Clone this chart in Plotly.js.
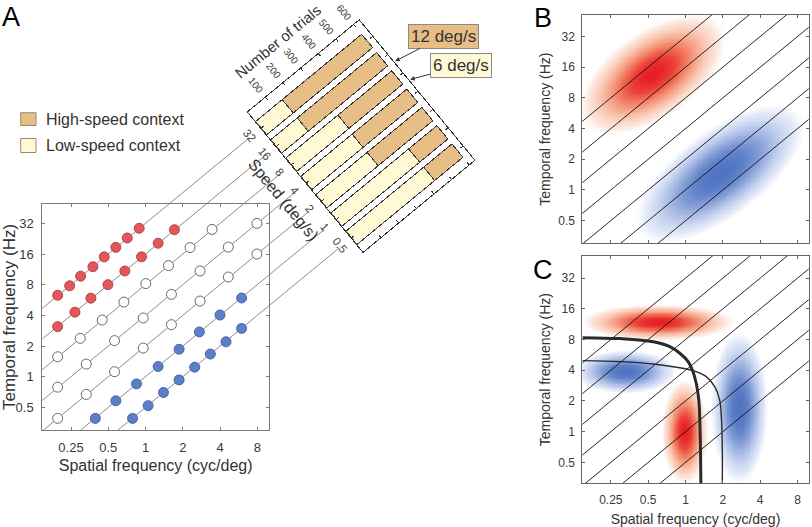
<!DOCTYPE html>
<html><head><meta charset="utf-8">
<script src="https://cdn.plot.ly/plotly-3.0.1.min.js"></script>
<style>
body{margin:0;background:#fff}
#wrap{position:relative;width:812px;height:527px;overflow:hidden;background:#fff}
#main{position:absolute;left:0;top:0;width:812px;height:527px}
#bars{position:absolute}
</style></head><body>
<div id="wrap"><div id="main"></div><div id="bars"></div></div>
<script>
// ================= DATA =================
const speeds = [32, 16, 8, 4, 2, 1, 0.5];
const speedLabels = ['32', '16', '8', '4', '2', '1', '0.5'];
const sfTicks = [0.25, 0.5, 1, 2, 4, 8];
const sfTickText = ['0.25', '0.5', '1', '2', '4', '8'];
const tfTicks = [0.5, 1, 2, 4, 8, 16, 32];
const tfTickText = ['0.5', '1', '2', '4', '8', '16', '32'];
const trialTicks = [100, 200, 300, 400, 500, 600];

// Panel A: stimuli on each speed line (spatial freq cyc/deg, temporal freq Hz)
const sf_32 = [0.195, 0.244, 0.299, 0.376, 0.464, 0.576, 0.712, 0.889];
const tf_32 = [6.3, 7.8, 9.7, 12.0, 15.0, 18.6, 23.0, 28.6];
const sf_16 = [0.195, 0.269, 0.362, 0.497, 0.681, 0.929, 1.265, 1.713];
const tf_16 = [3.1, 4.3, 5.9, 8.0, 10.9, 15.0, 20.4, 27.7];
const sf_8 = [0.195, 0.297, 0.447, 0.669, 1.006, 1.533, 2.291, 3.448];
const tf_8 = [1.57, 2.38, 3.6, 5.4, 8.2, 12.3, 18.5, 27.9];
const sf_4 = [0.195, 0.332, 0.562, 0.958, 1.62, 2.76, 4.67, 7.95];
const tf_4 = [0.79, 1.33, 2.26, 3.77, 6.43, 10.9, 18.7, 32.0];
const sf_2 = [0.195, 0.332, 0.562, 0.958, 1.62, 2.76, 4.67, 7.95];
const tf_2 = [0.39, 0.67, 1.12, 1.91, 3.24, 5.53, 9.51, 16.0];
const sf_1 = [0.393, 0.576, 0.846, 1.265, 1.868, 2.725, 4.0, 5.98];
const tf_1 = [0.39, 0.58, 0.85, 1.26, 1.86, 2.75, 4.03, 5.92];
const sf_05 = [0.786, 1.05, 1.397, 1.868, 2.499, 3.343, 4.472, 5.98];
const tf_05 = [0.39, 0.52, 0.70, 0.93, 1.24, 1.67, 2.2, 2.98];

// Number of trials per speed (32 ... 0.5)
const lowTrials = [150, 150, 295, 290, 290, 440, 440];
const highTrials = [450, 450, 305, 310, 310, 160, 160];

// Panel B blobs (centre sf, centre tf, sigma major/minor in octaves, angle deg, sign)
const blobB_sf = [0.54, 1.89];
const blobB_tf = [13.7, 1.46];
const blobB_sMaj = [1.03, 1.23];
const blobB_sMin = [0.55, 0.55];
const blobB_ang = [45, 45];
const blobB_sign = [1, -1];
// Panel C blobs
const blobC_sf = [0.60, 0.325, 0.98, 2.7];
const blobC_tf = [11.9, 3.9, 1.0, 1.73];
const blobC_sMaj = [0.86, 0.58, 0.72, 1.05];
const blobC_sMin = [0.25, 0.3, 0.26, 0.32];
const blobC_ang = [0, 0, 90, 90];
const blobC_sign = [1, -1, 1, -1];
// Panel C contour curves
const thick_sf = [0.148, 0.297, 0.549, 0.748, 0.90, 1.05, 1.15, 1.22, 1.28, 1.30, 1.32, 1.33];
const thick_tf = [8.35, 8.17, 7.62, 6.82, 5.87, 4.86, 3.87, 2.98, 2.04, 1.40, 0.66, 0.31];
const thin_sf = [0.148, 0.297, 0.549, 0.847, 1.15, 1.47, 1.72, 1.886, 1.945, 1.98, 1.98];
const thin_tf = [4.97, 4.86, 4.61, 4.28, 3.96, 3.46, 2.76, 2.04, 1.40, 0.66, 0.31];

// ================= GEOMETRY / STYLE =================
const W = 812, H = 527;
const FONT = 'Liberation Sans, Arial, Helvetica, sans-serif';
const PA = {x0: 42.3, x1: 269, y0: 204, y1: 430};
const xrA = [-0.834, 0.998], yrA = [-0.523, 1.695];
const PB = {x0: 582.3, x1: 808.7, y0: 15, y1: 243.3};
const PC = {x0: 582.3, x1: 808.7, y0: 256, y1: 483.3};
const xrBC = [-0.832, 0.993], yrB = [-0.523, 1.716], yrC = [-0.506, 1.722];

const kx = (PA.x1 - PA.x0) / (xrA[1] - xrA[0]);
const ky = (PA.y1 - PA.y0) / (yrA[1] - yrA[0]);
const theta = Math.atan2(ky, kx);
const dU = [Math.cos(theta), -Math.sin(theta)], dV = [Math.sin(theta), Math.cos(theta)];
const L = [248.3, 111.7];         // bar-frame corner
const Wf = 144, Hf = 181;         // bar frame size
const lineEndU = -16;
function toPx(sf, tf) { return [PA.x0 + (Math.log10(sf) - xrA[0]) * kx, PA.y1 - (Math.log10(tf) - yrA[0]) * ky]; }
function fromPx(p) { return [Math.pow(10, xrA[0] + (p[0] - PA.x0) / kx), Math.pow(10, yrA[0] + (PA.y1 - p[1]) / ky)]; }
function uv(p) { const r = [p[0] - L[0], p[1] - L[1]]; return [r[0] * dU[0] + r[1] * dU[1], r[0] * dV[0] + r[1] * dV[1]]; }
function fromUV(u, v) { return [L[0] + u * dU[0] + v * dV[0], L[1] + u * dU[1] + v * dV[1]]; }
const dom = (a, b) => [a / W, b / W];
const domY = (top, bot) => [1 - bot / H, 1 - top / H];

const bigX1 = 440;
const xrBig = [xrA[0], xrA[0] + (bigX1 - PA.x0) / kx];
const yrBig = [yrA[0], yrA[0] + PA.y1 / ky];

const traces = [];
// extended speed lines (panel A -> bar chart)
speeds.forEach(s => {
  const p0 = toPx(1, s); const v0 = uv(p0)[1];
  const e = fromPx(fromUV(lineEndU, v0));
  traces.push({type: 'scatter', mode: 'lines', x: [1e-3, e[0]], y: [s * 1e-3, e[1]], xaxis: 'x', yaxis: 'y',
    line: {color: '#6e6e6e', width: 0.8}, hoverinfo: 'skip'});
});
// panel A markers
const RED = {fill: 'rgb(226,88,90)', edge: 'rgb(175,60,62)'};
const WHT = {fill: '#ffffff', edge: '#5a5a5a'};
const BLU = {fill: 'rgb(92,128,200)', edge: 'rgb(62,92,155)'};
[[sf_32, tf_32, RED], [sf_16, tf_16, RED], [sf_8, tf_8, WHT], [sf_4, tf_4, WHT], [sf_2, tf_2, WHT], [sf_1, tf_1, BLU], [sf_05, tf_05, BLU]]
  .forEach(([xs, ys, c]) => traces.push({type: 'scatter', mode: 'markers', x: xs, y: ys, xaxis: 'x2', yaxis: 'y2',
    marker: {size: 10, color: c.fill, line: {color: c.edge, width: 0.9}}, hoverinfo: 'skip', cliponaxis: false}));

// heatmaps
const cscale = [[0, 'rgb(80,115,193)'], [0.12, 'rgb(98,131,202)'], [0.25, 'rgb(135,160,216)'], [0.38, 'rgb(185,200,235)'], [0.47, 'rgb(226,233,248)'], [0.5, 'rgb(255,255,255)'],
  [0.53, 'rgb(252,228,218)'], [0.62, 'rgb(248,186,160)'], [0.75, 'rgb(242,128,102)'], [0.88, 'rgb(236,68,56)'], [1, 'rgb(230,30,38)']];
function blobField(xr, yr, bsf, btf, sMaj, sMin, ang, sign) {
  const N = 180, xs = [], ys = [], z = [];
  for (let i = 0; i < N; i++) xs.push(Math.pow(10, xr[0] + (xr[1] - xr[0]) * i / (N - 1)));
  for (let j = 0; j < N; j++) ys.push(Math.pow(10, yr[0] + (yr[1] - yr[0]) * j / (N - 1)));
  for (let j = 0; j < N; j++) {
    const row = [];
    for (let i = 0; i < N; i++) {
      let s = 0;
      for (let k = 0; k < bsf.length; k++) {
        const dx = Math.log2(xs[i] / bsf[k]), dy = Math.log2(ys[j] / btf[k]);
        const a = ang[k] * Math.PI / 180;
        const p = dx * Math.cos(a) + dy * Math.sin(a), q = -dx * Math.sin(a) + dy * Math.cos(a);
        const g = Math.exp(-0.5 * (p * p / (sMaj[k] * sMaj[k]) + q * q / (sMin[k] * sMin[k])));
        s += sign[k] * Math.max(0, (g - 0.06) / 0.94);
      }
      row.push(Math.max(-1, Math.min(1, s)));
    }
    z.push(row);
  }
  return {xs, ys, z};
}
const fB = blobField(xrBC, yrB, blobB_sf, blobB_tf, blobB_sMaj, blobB_sMin, blobB_ang, blobB_sign);
traces.push({type: 'heatmap', x: fB.xs, y: fB.ys, z: fB.z, xaxis: 'x3', yaxis: 'y3', colorscale: cscale, zmin: -1, zmax: 1, showscale: false, zsmooth: 'best', hoverinfo: 'skip'});
const fC = blobField(xrBC, yrC, blobC_sf, blobC_tf, blobC_sMaj, blobC_sMin, blobC_ang, blobC_sign);
traces.push({type: 'heatmap', x: fC.xs, y: fC.ys, z: fC.z, xaxis: 'x4', yaxis: 'y4', colorscale: cscale, zmin: -1, zmax: 1, showscale: false, zsmooth: 'best', hoverinfo: 'skip'});
// speed lines in B and C
[['x3', 'y3'], ['x4', 'y4']].forEach(([xa, ya]) => speeds.forEach(s => traces.push({type: 'scatter', mode: 'lines',
  x: [1e-3, 1e3], y: [s * 1e-3, s * 1e3], xaxis: xa, yaxis: ya, line: {color: '#111', width: 0.9}, hoverinfo: 'skip'})));
traces.push({type: 'scatter', mode: 'lines', x: thick_sf, y: thick_tf, xaxis: 'x4', yaxis: 'y4', line: {color: '#2a2a2a', width: 3, shape: 'spline'}, hoverinfo: 'skip'});
traces.push({type: 'scatter', mode: 'lines', x: thin_sf, y: thin_tf, xaxis: 'x4', yaxis: 'y4', line: {color: '#2a2a2a', width: 1.4, shape: 'spline'}, hoverinfo: 'skip'});

function logAxis(extra) {
  return Object.assign({type: 'log', showgrid: false, zeroline: false, showline: true, mirror: 'ticks', ticks: 'inside', ticklen: 3,
    tickcolor: '#666', linecolor: '#666', linewidth: 1, tickfont: {size: 12, color: '#3a3a3a'}}, extra);
}
const layout = {
  width: W, height: H, margin: {l: 0, r: 0, t: 0, b: 0}, paper_bgcolor: '#fff', plot_bgcolor: 'rgba(0,0,0,0)', showlegend: false,
  font: {family: FONT, color: '#333'},
  xaxis: {type: 'log', domain: dom(PA.x0, bigX1), range: xrBig, visible: false, anchor: 'y'},
  yaxis: {type: 'log', domain: domY(0, PA.y1), range: yrBig, visible: false, anchor: 'x'},
  xaxis2: logAxis({domain: dom(PA.x0, PA.x1), range: xrA, anchor: 'y2', tickvals: sfTicks, ticktext: sfTickText, tickfont: {size: 13, color: '#3a3a3a'},
    linecolor: '#7a7a7a', tickcolor: '#7a7a7a', ticklabelstandoff: 5, title: {text: 'Spatial frequency (cyc/deg)', font: {size: 16, color: '#333'}, standoff: 6}}),
  yaxis2: logAxis({domain: domY(PA.y0, PA.y1), range: yrA, anchor: 'x2', tickvals: tfTicks, ticktext: tfTickText, tickfont: {size: 13, color: '#3a3a3a'},
    linecolor: '#7a7a7a', tickcolor: '#7a7a7a', ticklabelstandoff: 5, title: {text: 'Temporal frequency (Hz)', font: {size: 17, color: '#333'}, standoff: 3}}),
  xaxis3: logAxis({domain: dom(PB.x0, PB.x1), range: xrBC, anchor: 'y3', tickvals: sfTicks, showticklabels: false}),
  yaxis3: logAxis({domain: domY(PB.y0, PB.y1), range: yrB, anchor: 'x3', tickvals: tfTicks, ticktext: tfTickText, ticklabelstandoff: 4,
    title: {text: 'Temporal frequency (Hz)', font: {size: 14, color: '#333'}, standoff: 4}}),
  xaxis4: logAxis({domain: dom(PC.x0, PC.x1), range: xrBC, anchor: 'y4', tickvals: sfTicks, ticktext: sfTickText, ticklabelstandoff: 5,
    title: {text: 'Spatial frequency (cyc/deg)', font: {size: 14, color: '#333'}, standoff: 8}}),
  yaxis4: logAxis({domain: domY(PC.y0, PC.y1), range: yrC, anchor: 'x4', tickvals: tfTicks, ticktext: tfTickText, ticklabelstandoff: 4,
    title: {text: 'Temporal frequency (Hz)', font: {size: 14, color: '#333'}, standoff: 4}}),
  shapes: [], annotations: []
};
// panel letters
[['A', 11, 17], ['B', 543, 17.5], ['C', 542.5, 270]].forEach(([t, x, y]) => layout.annotations.push({text: t, xref: 'paper', yref: 'paper',
  x: x / W, y: 1 - y / H, xanchor: 'center', yanchor: 'middle', showarrow: false, font: {size: 27, color: '#000'}}));
// legend
const TAN = 'rgb(232,190,135)', CREAM = 'rgb(255,249,214)';
[[TAN, 'High-speed context', 112.7, 125.5], [CREAM, 'Low-speed context', 138.5, 152.5]].forEach(([c, t, y0, y1]) => {
  layout.shapes.push({type: 'rect', xref: 'paper', yref: 'paper', x0: 20.7 / W, x1: 36 / W, y0: 1 - y1 / H, y1: 1 - y0 / H, fillcolor: c, line: {color: '#9a8a70', width: 1}});
  layout.annotations.push({text: t, xref: 'paper', yref: 'paper', x: 44 / W, y: 1 - (y0 + y1) / 2 / H, xanchor: 'left', yanchor: 'middle', showarrow: false, font: {size: 16, color: '#333'}});
});
// speed-context call-outs pointing at the bar frame's far edge
[[12, '12 deg/s', TAN, 443.3, 36.3], [6, '6 deg/s', CREAM, 461, 66]].forEach(([s, t, c, cx, cy]) => {
  const v = uv(toPx(1, s))[1];
  const h = fromUV(Wf + 1.5, v);
  layout.annotations.push({text: t, xref: 'paper', yref: 'paper', x: h[0] / W, y: 1 - h[1] / H, ax: cx - h[0], ay: cy - h[1],
    showarrow: true, arrowhead: 2, arrowsize: 0.9, arrowwidth: 1, arrowcolor: '#333', bgcolor: c, bordercolor: '#8a8a8a', borderwidth: 1, borderpad: 2,
    font: {size: 17, color: '#333'}});
});

Plotly.newPlot('main', traces, layout, {displayModeBar: false, staticPlot: true});

// ================= rotated bar chart =================
const vCat = speeds.map(s => uv(toPx(1, s))[1]);
const dv = vCat[1] - vCat[0];
const rTop = -vCat[0] / dv, rBot = rTop + Hf / dv;
const ml = 70, mt = 70, mr = 30, mb = 30;
const bdiv = document.getElementById('bars');
bdiv.style.left = (L[0] - ml) + 'px';
bdiv.style.top = (L[1] - mt) + 'px';
bdiv.style.width = (ml + Wf + mr) + 'px';
bdiv.style.height = (mt + Hf + mb) + 'px';
bdiv.style.transformOrigin = ml + 'px ' + mt + 'px';
bdiv.style.transform = 'rotate(' + (-theta * 180 / Math.PI) + 'deg)';
const barTraces = [
  {type: 'bar', orientation: 'h', x: lowTrials, y: speedLabels, name: 'Low-speed context', marker: {color: CREAM, line: {color: '#3a3a3a', width: 1}}, hoverinfo: 'skip'},
  {type: 'bar', orientation: 'h', x: highTrials, y: speedLabels, name: 'High-speed context', marker: {color: TAN, line: {color: '#3a3a3a', width: 1}}, hoverinfo: 'skip'}
];
const barLayout = {
  width: ml + Wf + mr, height: mt + Hf + mb, margin: {l: ml, t: mt, r: mr, b: mb}, paper_bgcolor: 'rgba(0,0,0,0)', plot_bgcolor: 'rgba(0,0,0,0)',
  barmode: 'stack', bargap: 0.27, showlegend: false, font: {family: FONT, color: '#333'},
  xaxis: {side: 'top', range: [0, 630], tickvals: trialTicks, tickangle: 90, tickfont: {size: 10, color: '#444'}, ticks: 'inside', ticklen: 3,
    showline: true, mirror: 'ticks', linecolor: '#333', tickcolor: '#333', showgrid: false, zeroline: false, ticklabelstandoff: 3},
  yaxis: {type: 'category', categoryorder: 'array', categoryarray: speedLabels, range: [rBot, rTop], tickangle: 90, tickfont: {size: 11.5, color: '#444'},
    ticks: 'inside', ticklen: 3, showline: true, mirror: 'ticks', linecolor: '#333', tickcolor: '#333', showgrid: false, zeroline: false, ticklabelstandoff: 3},
  annotations: [
    {text: 'Number of trials', xref: 'paper', yref: 'paper', x: 68 / Wf, y: 1 + 36 / Hf, xanchor: 'center', yanchor: 'middle', showarrow: false, font: {size: 15, color: '#333'}},
    {text: 'Speed (deg/s)', xref: 'paper', yref: 'paper', x: -28 / Wf, y: 1 - 90 / Hf, xanchor: 'center', yanchor: 'middle', textangle: 90, showarrow: false, font: {size: 16, color: '#333'}}
  ]
};
Plotly.newPlot('bars', barTraces, barLayout, {displayModeBar: false, staticPlot: true});
</script></body></html>
